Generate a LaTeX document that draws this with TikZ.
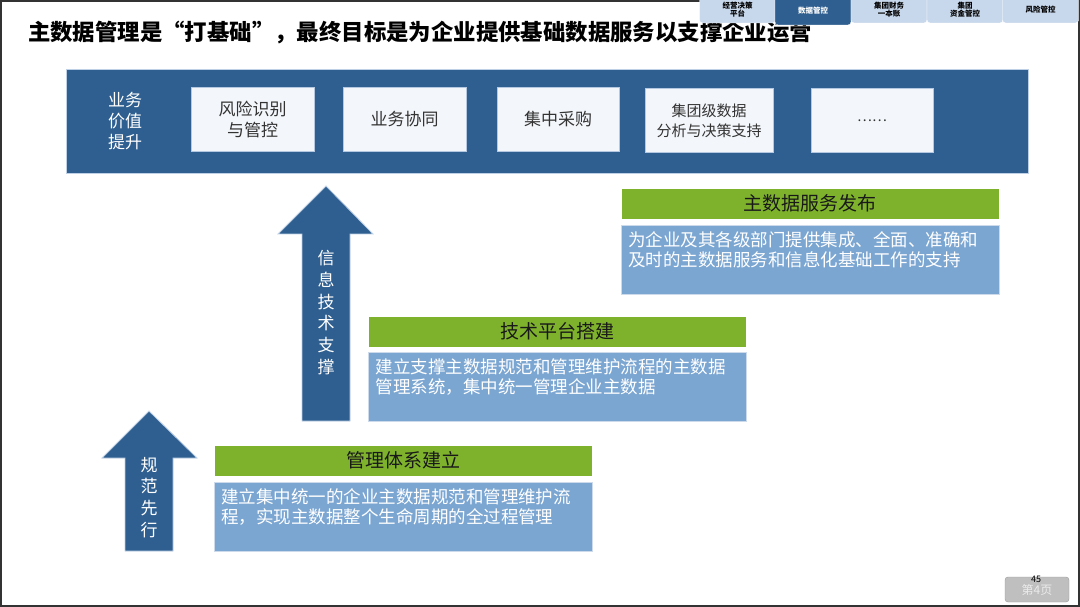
\documentclass[tikz,border=0pt]{standalone}
\usepackage{fontspec}
\setmainfont{Noto Sans CJK SC}
\usetikzlibrary{positioning}
\definecolor{panelblue}{RGB}{47,95,144}
\definecolor{paneledge}{RGB}{190,208,230}
\definecolor{valfill}{RGB}{243,246,250}
\definecolor{valedge}{RGB}{180,200,225}
\definecolor{stepgreen}{RGB}{127,178,44}
\definecolor{descblue}{RGB}{124,166,210}
\definecolor{descedge}{RGB}{205,218,236}
\definecolor{tabblue}{RGB}{200,216,236}
\definecolor{valtext}{RGB}{51,51,51}
\newcommand{\barwidth}{378pt}
\newcommand{\barheight}{31pt}
\newcommand{\descheight}{69pt}
\newcommand{\tabwidth}{76pt}
\newcommand{\valwidth}{123pt}
\newcommand{\valheight}{64pt}
\tikzset{
  stepbar/.style={fill=stepgreen, draw=white, minimum width=\barwidth,
    minimum height=\barheight, inner sep=0pt, text=black!90,
    font=\fontsize{19}{20}\selectfont},
  stepdesc/.style={fill=descblue, draw=descedge, minimum width=\barwidth,
    minimum height=\descheight, inner sep=0pt},
  desctext/.style={text=white, align=left, inner sep=0pt,
    font=\fontsize{17.5}{20}\selectfont},
  valbox/.style={fill=valfill, draw=valedge, minimum width=\valwidth,
    minimum height=\valheight, inner sep=0pt, align=center, text=valtext,
    font=\fontsize{17}{21}\selectfont},
  uparrow/.style={fill=panelblue, draw=paneledge, line width=0.8pt},
  arrowtext/.style={text=white, align=center, inner sep=0pt,
    font=\fontsize{17}{21.8}\selectfont},
  tabbox/.style={fill=tabblue, draw=white, rounded corners=3pt,
    minimum width=\tabwidth, minimum height=26pt, inner sep=0pt,
    align=center, font=\fontsize{7.5}{8}\selectfont\bfseries}
}

\begin{document}
\begin{tikzpicture}[x=1pt, y=-1pt]
    \useasboundingbox (0,0) rectangle (1080,607);

    % slide frame
    \draw[line width=2pt, black!80] (1,1) rectangle (1079,606);

    % title
    \node[anchor=west, inner sep=0pt, font=\fontsize{22.4}{25}\selectfont\bfseries]
      (title) at (28,33) {主数据管理是“打基础”，最终目标是为企业提供基础数据服务以支撑企业运营};

    % tabs
    \node[tabbox] (tabdecide) at (737.5,10) {经营决策\\平台};
    \node[tabbox, fill=panelblue, text=white, minimum height=28pt] (tabdata) at (813,11) {数据管控};
    \node[tabbox] (tabfinance) at (889,10) {集团财务\\一本账};
    \node[tabbox] (tabfund) at (965,10) {集团\\资金管控};
    \node[tabbox] (tabrisk) at (1040.5,10) {风险管控};

    % value panel
    \node[fill=panelblue, draw=paneledge, line width=0.8pt, minimum width=962pt,
      minimum height=104pt, inner sep=0pt] (panel) at (547,121) {};
    \node[text=white, align=center, font=\fontsize{17}{21}\selectfont]
      (panellabel) at (125,121) {业务\\价值\\提升};
    \node[valbox] (risk) at (252.5,119) {风险识别\\与管控};
    \node[valbox] (synergy) at (404.5,119) {业务协同};
    \node[valbox, minimum width=122pt] (purchase) at (558,119.5) {集中采购};
    \node[valbox, minimum width=128pt, font=\fontsize{15}{20}\selectfont]
      (analysis) at (709,120.5) {集团级数据\\分析与决策支持};
    \node[valbox, minimum width=122pt, font=\fontsize{14}{20}\selectfont] (more) at (872,120.5) {……};

    % arrows
    \draw[uparrow] (125,551) -- (125,458) -- (102,458) -- (149,411)
      -- (197,458) -- (173,458) -- (173,551) -- cycle;
    \node[arrowtext] (normlabel) at (149,497.5) {规\\范\\先\\行};
    \draw[uparrow] (302,421) -- (302,234) -- (278,234) -- (326,186)
      -- (373,234) -- (350,234) -- (350,421) -- cycle;
    \node[arrowtext] (techlabel) at (326,312.5) {信\\息\\技\\术\\支\\撑};

    % step 1
    \node[stepbar] (mgmt) at (403,460.5) {管理体系建立};
    \node[stepdesc, below=6pt of mgmt] (mgmtdesc) {};
    \node[desctext, below right=6pt and 7pt of mgmtdesc.north west] (mgmttext)
      {建立集中统一的企业主数据规范和管理维护流\\程，实现主数据整个生命周期的全过程管理};

    % step 2
    \node[stepbar] (platform) at (557.5,331.5) {技术平台搭建};
    \node[stepdesc, below=5pt of platform] (platformdesc) {};
    \node[desctext, below right=6pt and 7pt of platformdesc.north west] (platformtext)
      {建立支撑主数据规范和管理维护流程的主数据\\管理系统，集中统一管理企业主数据};

    % step 3
    \node[stepbar] (service) at (810,203.5) {主数据服务发布};
    \node[stepdesc, below=6pt of service] (servicedesc) {};
    \node[desctext, below right=6pt and 7pt of servicedesc.north west] (servicetext)
      {为企业及其各级部门提供集成、全面、准确和\\及时的主数据服务和信息化基础工作的支持};

    % page number
    \node[fill=black!25, draw=black!40, rounded corners=3pt, minimum width=64pt,
      minimum height=25pt, inner sep=0pt, text=black!8,
      font=\fontsize{12}{14}\selectfont] (pagebox) at (1037,589.5) {第4页};
    \node[inner sep=0pt, font=\fontsize{9}{10}\selectfont] (pagenum) at (1036,579) {45};
\end{tikzpicture}
\end{document}
